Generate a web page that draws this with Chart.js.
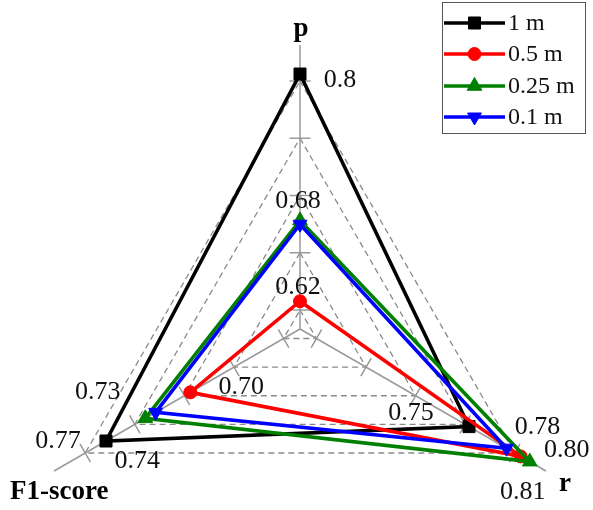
<!DOCTYPE html>
<html><head><meta charset="utf-8">
<script src="https://cdn.jsdelivr.net/npm/chart.js@4/dist/chart.umd.min.js"></script>
<style>
html,body{margin:0;padding:0;background:#fff;}
#wrap{position:relative;width:593px;height:510px;overflow:hidden;}
canvas{display:block;}
</style></head><body>
<div id="wrap"><canvas id="c" width="593" height="620"></canvas></div>
<script>
// ---- data ----
const axes = ['p', 'r', 'F1-score'];
const series = ['1 m', '0.5 m', '0.25 m', '0.1 m'];
const values1m   = [0.802, 0.752, 0.773];
const values05m  = [0.622, 0.803, 0.700];
const values025m = [0.686, 0.812, 0.739];
const values01m  = [0.683, 0.789, 0.730];
// per-axis value range (centre -> end of axis)
const axisMin = [0.600, 0.585, 0.605];
const axisMax = [0.825, 0.828, 0.818];
// value annotations
const labels1m   = ['0.8', '0.75', '0.77'];
const labels05m  = ['0.62', '0.80', '0.70'];
const labels025m = ['0.68', '0.81', '0.74'];
const labels01m  = ['', '0.78', '0.73'];

// ---- layout / style ----
const FULL = 284;                       // normalised axis length
const gridLevels = [0, 19, 76.25, 133.5, 190.75, 248];
const TICK = 10.5;
const allValues = [values1m, values05m, values025m, values01m];
const allLabels = [labels1m, labels05m, labels025m, labels01m];
const labelOffsets = [
  [[40, 6], [-58, -13], [-48, 0]],
  [[-2, -14], [46, -6], [51, -5]],
  [[-2, -19.5], [-7, 31], [-8, 43]],
  [[0, 0], [31, -21], [-58, -20]]
];
const styles = [
  {color: '#000000', point: 'rect', radius: 8.5, rot: 0},
  {color: '#ff0000', point: 'circle', radius: 6.5, rot: 0},
  {color: '#008000', point: 'triangle', radius: 8.5, rot: 0},
  {color: '#0000ff', point: 'triangle', radius: 8, rot: 180}
];
const SERIF = "'Liberation Serif', 'Times New Roman', serif";

function norm(v, i) { return (v - axisMin[i]) / (axisMax[i] - axisMin[i]) * FULL; }

const datasets = series.map((name, k) => ({
  label: name,
  data: allValues[k].map((v, i) => norm(v, i)),
  borderColor: styles[k].color,
  backgroundColor: styles[k].color,
  borderWidth: 3.6,
  fill: false,
  tension: 0,
  pointStyle: styles[k].point,
  pointRadius: styles[k].radius,
  pointHoverRadius: styles[k].radius,
  pointRotation: styles[k].rot,
  pointBackgroundColor: styles[k].color,
  pointBorderColor: styles[k].color,
  pointBorderWidth: 1,
  order: series.length - k
}));

function drawMarker(ctx, style, x, y, r, color, rot) {
  ctx.save();
  ctx.fillStyle = color; ctx.strokeStyle = color; ctx.lineWidth = 1;
  ctx.beginPath();
  if (style === 'rect') {
    const s = Math.SQRT1_2 * r;
    ctx.rect(x - s, y - s, 2 * s, 2 * s);
  } else if (style === 'circle') {
    ctx.arc(x, y, r, 0, Math.PI * 2);
  } else {
    let a = rot * Math.PI / 180;
    for (let j = 0; j < 3; j++) {
      const px = x + Math.sin(a) * r, py = y - Math.cos(a) * r;
      if (j === 0) ctx.moveTo(px, py); else ctx.lineTo(px, py);
      a += 2 * Math.PI / 3;
    }
    ctx.closePath();
  }
  ctx.fill(); ctx.stroke();
  ctx.restore();
}

const overlay = {
  id: 'overlay',
  beforeDatasetsDraw(chart) {
    const s = chart.scales.r, ctx = chart.ctx;
    ctx.save();
    ctx.strokeStyle = '#959595'; ctx.lineWidth = 1.4; ctx.setLineDash([]);
    for (let i = 0; i < axes.length; i++) {
      const ang = s.getIndexAngle(i) - Math.PI / 2;
      const px = -Math.sin(ang), py = Math.cos(ang);
      gridLevels.slice(1).forEach(lv => {
        const p = s.getPointPosition(i, s.getDistanceFromCenterForValue(lv));
        ctx.beginPath();
        ctx.moveTo(p.x - px * TICK, p.y - py * TICK);
        ctx.lineTo(p.x + px * TICK, p.y + py * TICK);
        ctx.stroke();
      });
    }
    ctx.restore();
  },
  afterDraw(chart) {
    const ctx = chart.ctx, s = chart.scales.r;
    ctx.save();
    // axis titles
    ctx.fillStyle = '#000';
    ctx.font = 'bold 27px ' + SERIF;
    ctx.textBaseline = 'alphabetic';
    ctx.textAlign = 'center';
    ctx.fillText(axes[0], s.xCenter + 1, 36);
    ctx.fillText(axes[1], 565, 491);
    ctx.textAlign = 'left';
    ctx.fillText(axes[2], 10, 499);
    // value annotations
    ctx.font = '26px ' + SERIF;
    ctx.fillStyle = '#111';
    ctx.textAlign = 'center';
    ctx.textBaseline = 'middle';
    allLabels.forEach((labs, k) => {
      const meta = chart.getDatasetMeta(k);
      labs.forEach((t, i) => {
        if (!t) return;
        const el = meta.data[i];
        ctx.fillText(t, el.x + labelOffsets[k][i][0], el.y + labelOffsets[k][i][1]);
      });
    });
    // legend
    const lg = {x: 442.5, y: 2.5, w: 143, h: 131, x0: 444, x1: 505, tx: 508, rows: [23, 54, 86, 117]};
    ctx.fillStyle = '#fff';
    ctx.fillRect(lg.x, lg.y, lg.w, lg.h);
    ctx.strokeStyle = '#555'; ctx.lineWidth = 1;
    ctx.strokeRect(lg.x, lg.y, lg.w, lg.h);
    ctx.font = '24px ' + SERIF;
    ctx.textAlign = 'left'; ctx.textBaseline = 'middle';
    series.forEach((name, k) => {
      const y = lg.rows[k];
      ctx.strokeStyle = styles[k].color; ctx.lineWidth = 3.6;
      ctx.beginPath(); ctx.moveTo(lg.x0, y); ctx.lineTo(lg.x1, y); ctx.stroke();
      drawMarker(ctx, styles[k].point, (lg.x0 + lg.x1) / 2, y, styles[k].radius, styles[k].color, styles[k].rot);
      ctx.fillStyle = '#111';
      ctx.fillText(name, lg.tx, y + 1);
    });
    ctx.restore();
  }
};

new Chart(document.getElementById('c'), {
  type: 'radar',
  data: { labels: axes, datasets },
  options: {
    responsive: false,
    animation: false,
    layout: { padding: { left: 16, right: 9, top: 45, bottom: 7 } },
    plugins: { legend: { display: false }, tooltip: { enabled: false } },
    elements: { line: { tension: 0 } },
    scales: {
      r: {
        min: 0, max: FULL,
        startAngle: 0,
        ticks: { display: false },
        pointLabels: { display: false },
        grid: { circular: false, color: '#8a8a8a', lineWidth: 1.3, borderDash: [6, 4] },
        border: { dash: [6, 4] },
        angleLines: { color: '#9a9a9a', lineWidth: 1.5 },
        afterBuildTicks: (scale) => { scale.ticks = gridLevels.map(v => ({ value: v })); }
      }
    }
  },
  plugins: [overlay]
});
</script>
</body></html>
